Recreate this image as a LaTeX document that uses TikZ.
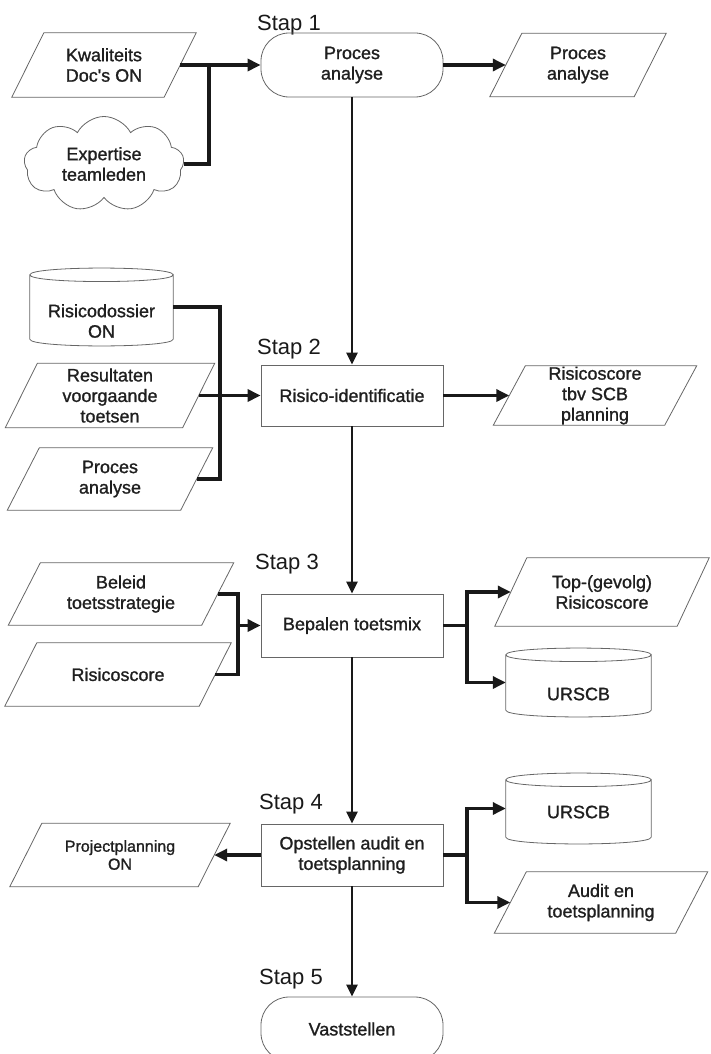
\documentclass[tikz,border=0pt]{standalone}
\usepackage{fontspec}
\setmainfont{Liberation Sans}
\newfontfamily\semibfont{Liberation Sans}[FakeBold=1.2]
\usetikzlibrary{arrows.meta,shapes.misc,shapes.symbols}
\begin{document}
\begin{tikzpicture}[x=1pt,y=-1pt,
  txt/.style={font=\semibfont\fontsize{18}{20.5}\selectfont, align=center, text=black!88},
  shapeline/.style={draw=black!60, line width=0.8pt},
  para/.style 2 args={txt, draw=none, minimum width=#1pt, minimum height=#2pt, inner sep=0pt,
    append after command={\pgfextra{\draw[shapeline]
      ([xshift=16pt]\tikzlastnode.north west) -- ([xshift=16pt]\tikzlastnode.north east)
      -- ([xshift=-16pt]\tikzlastnode.south east) -- ([xshift=-16pt]\tikzlastnode.south west) -- cycle;}}},
  db/.style 2 args={draw=none, minimum width=#1pt, minimum height=#2pt, inner sep=0pt,
    append after command={\pgfextra{\draw[shapeline]
      (\tikzlastnode.north west) -- (\tikzlastnode.south west)
      .. controls +(0,9) and +(0,9) .. (\tikzlastnode.south east)
      -- (\tikzlastnode.north east)
      .. controls +(0,9) and +(0,9) .. (\tikzlastnode.north west)
      .. controls +(0,-9) and +(0,-9) .. (\tikzlastnode.north east);}}},
  term/.style={txt, shapeline, rectangle, rounded corners=28pt, minimum width=182pt, minimum height=64pt},
  procbox/.style={txt, shapeline, rectangle, minimum width=182pt, minimum height=62pt},
  cloudbox/.style={txt, shapeline, cloud, cloud puffs=9, cloud puff arc=125, aspect=1.6, inner sep=0pt, minimum width=160pt, minimum height=95pt},
  mainflow/.style={line width=2.3pt, black!90, -{Triangle[length=12pt,width=11pt]}},
  conn/.style={line width=3.2pt, black!90},
  arr/.style={-{Triangle[length=13pt,width=12pt]}},
  stap/.style={font=\fontsize{22}{26}\selectfont, anchor=base west, inner sep=0pt, text=black!90}
]
\clip (0,0) rectangle (711,1054);

% ---- Stap 1
\node[stap] (s1) at (257,31) {Stap 1};
\node[term] (t1) at (352,65) {Proces\\analyse};
\node[para={152}{64}] (kw) at (104,65) {Kwaliteits\\Doc's ON};
\node[cloudbox] (cl) at (104,164) {Expertise\\teamleden};
\node[para={144}{63}] (pa1) at (578,65) {Proces\\analyse};
\coordinate (j1) at (209,65);
\draw[conn,arr] (kw.east) -- (t1.west);
\draw[conn] (cl.east) -| (j1);
\draw[conn,arr] (t1.east) -- (pa1.west);

% ---- Stap 2
\node[stap] (s2) at (257,354) {Stap 2};
\node[procbox, minimum height=61pt] (risk) at (352,395.5) {Risico-identificatie};
\node[db={143}{64}] (rdos) at (101.5,307) {};
\node[txt] (rdostxt) at (101.5,321) {Risicodossier\\ON};
\node[para={177}{64}] (res) at (110,395.5) {Resultaten\\voorgaande\\toetsen};
\node[para={173}{62}] (pa2) at (110,479) {Proces\\analyse};
\node[para={171}{59}] (rs) at (595,395.5) {Risicoscore\\tbv SCB\\planning};
\coordinate (bus2) at (220,395.5);
\draw[mainflow] (t1.south) -- (risk.north);
\draw[conn] (rdos.east) -| (bus2) |- (pa2.east);
\draw[conn,arr] (res.east) -- (risk.west);
\draw[conn,arr] (risk.east) -- (rs.west);

% ---- Stap 3
\node[stap] (s3) at (255,569) {Stap 3};
\node[procbox, minimum height=63pt] (bep) at (352,625.5) {Bepalen toetsmix};
\node[para={193}{62}] (bel) at (121,594) {Beleid\\toetsstrategie};
\node[para={194}{63}] (rsc) at (118,674.5) {Risicoscore};
\node[para={182}{68}] (top) at (602,592) {Top-(gevolg)\\Risicoscore};
\node[db={145}{55}] (ur1) at (578.5,682.5) {};
\node[txt] (ur1txt) at (578.5,694) {URSCB};
\coordinate (b3) at (238,625.5);
\coordinate (b3r) at (467,625.5);
\draw[mainflow] (risk.south) -- (bep.north);
\draw[conn] (bel.east) -| (b3) |- (rsc.east);
\draw[conn,arr] (b3) -- (bep.west);
\draw[conn] (bep.east) -- (b3r);
\draw[conn,arr] (b3r) |- (top.west);
\draw[conn,arr] (b3r) |- (ur1.west);

% ---- Stap 4
\node[stap] (s4) at (259,809) {Stap 4};
\node[procbox] (opst) at (352,855) {Opstellen audit en\\toetsplanning};
\node[para={188}{63}, font=\semibfont\fontsize{16}{18}\selectfont] (pp) at (120,855) {Projectplanning\\ON};
\node[db={145}{57}] (ur2) at (578.5,808.5) {};
\node[txt] (ur2txt) at (578.5,812) {URSCB};
\node[para={181}{61}] (aud) at (601,902.5) {Audit en\\toetsplanning};
\coordinate (b4r) at (467,855);
\draw[mainflow] (bep.south) -- (opst.north);
\draw[conn,arr] (opst.west) -- (pp.east);
\draw[conn] (opst.east) -- (b4r);
\draw[conn,arr] (b4r) |- (ur2.west);
\draw[conn,arr] (b4r) |- (aud.west);

% ---- Stap 5
\node[stap] (s5) at (259,984) {Stap 5};
\node[term] (t5) at (352,1029) {Vaststellen};
\draw[mainflow] (opst.south) -- (t5.north);
\end{tikzpicture}
\end{document}
